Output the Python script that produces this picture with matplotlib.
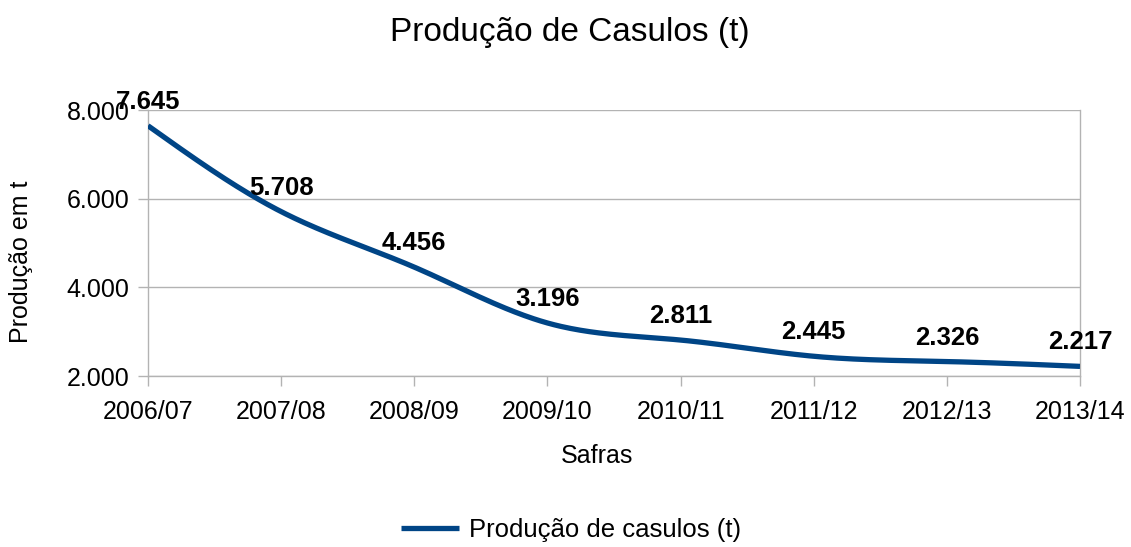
import numpy as np
import matplotlib
matplotlib.use("Agg")
import matplotlib.pyplot as plt

plt.rcParams['font.family'] = ['Liberation Sans', 'DejaVu Sans']

categories = ["2006/07", "2007/08", "2008/09", "2009/10", "2010/11", "2011/12", "2012/13", "2013/14"]
values = [7645, 5708, 4456, 3196, 2811, 2445, 2326, 2217]
labels = ["7.645", "5.708", "4.456", "3.196", "2.811", "2.445", "2.326", "2.217"]
yticks = [2000, 4000, 6000, 8000]
ytick_labels = ["2.000", "4.000", "6.000", "8.000"]


def natural_spline(x, y, n=400):
    x = np.asarray(x, float)
    y = np.asarray(y, float)
    m = len(x)
    h = np.diff(x)
    A = np.zeros((m, m))
    b = np.zeros(m)
    A[0, 0] = 1
    A[-1, -1] = 1
    for i in range(1, m - 1):
        A[i, i - 1] = h[i - 1]
        A[i, i] = 2 * (h[i - 1] + h[i])
        A[i, i + 1] = h[i]
        b[i] = 3 * ((y[i + 1] - y[i]) / h[i] - (y[i] - y[i - 1]) / h[i - 1])
    c = np.linalg.solve(A, b)
    xs = np.linspace(x[0], x[-1], n)
    ys = np.empty_like(xs)
    for k, xv in enumerate(xs):
        i = min(np.searchsorted(x, xv, side='right') - 1, m - 2)
        dx = xv - x[i]
        bi = (y[i + 1] - y[i]) / h[i] - h[i] * (2 * c[i] + c[i + 1]) / 3
        di = (c[i + 1] - c[i]) / (3 * h[i])
        ys[k] = y[i] + bi * dx + c[i] * dx ** 2 + di * dx ** 3
    return xs, ys


fig = plt.figure(figsize=(11.31, 5.47), dpi=100)
ax = fig.add_axes([148 / 1131, 1 - 376 / 547, (1080 - 148) / 1131, (376 - 110) / 547])

xpos = np.arange(len(categories))
xs, ys = natural_spline(xpos, values)
color = '#004586'
ax.plot(xs, ys, color=color, lw=3.8, solid_capstyle='butt', label="Produção de casulos (t)", zorder=3)

for xi, v, lab in zip(xpos, values, labels):
    ax.annotate(lab, (xi, v), xytext=(0, 24), textcoords='offset pixels',
                ha='center', va='center', fontsize=18.5, fontweight='bold', color='black', zorder=4)

ax.set_xlim(0, len(categories) - 1)
ax.set_ylim(2000, 8000)
ax.set_yticks(yticks)
ax.set_yticklabels(ytick_labels)
ax.set_xticks(xpos)
ax.set_xticklabels(categories)
ax.tick_params(axis='both', labelsize=18, length=7.5, color='#b3b3b3', width=1)
ax.tick_params(axis='x', pad=10)
ax.tick_params(axis='y', pad=6)
ax.grid(axis='y', color='#b3b3b3', lw=1)
ax.spines['top'].set_visible(False)
for s in ['left', 'right', 'bottom']:
    ax.spines[s].set_color('#b3b3b3')
    ax.spines[s].set_linewidth(1)
ax.set_axisbelow(True)

ax.set_xlabel("Safras", fontsize=18)
ax.set_ylabel("Produção em t", fontsize=18)
ax.xaxis.set_label_coords((597 - 148) / (1080 - 148), -(456 - 376) / (376 - 110))
ax.xaxis.label.set_va('center')
ax.yaxis.set_label_coords(-(148 - 21) / (1080 - 148), (376 - 262) / (376 - 110))
ax.yaxis.label.set_va('center')
fig.text(570 / 1131, 1 - 33 / 547, "Produção de Casulos (t)", ha='center', va='center', fontsize=24)

fig.legend(loc='center', bbox_to_anchor=(571 / 1131, 1 - 530 / 547), frameon=False,
           fontsize=18.5, handlelength=2.26, handletextpad=0.4)

fig.savefig("out.png", dpi=100)
